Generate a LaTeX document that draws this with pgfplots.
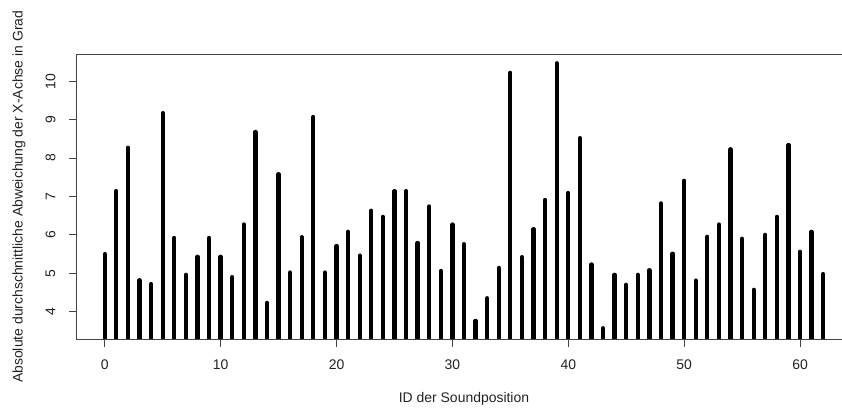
\documentclass[border=0pt]{standalone}
\usepackage{pgfplots}
\pgfplotsset{compat=1.18}
\usepackage{fontspec}
\setmainfont{Liberation Sans}
\definecolor{axisgray}{HTML}{444444}
\definecolor{textgray}{HTML}{222222}
\begin{document}
\begin{tikzpicture}
\useasboundingbox (0,0) rectangle (842bp,410bp);
\begin{axis}[
  name=ax,
  at={(76bp,70.5bp)}, anchor=south west,
  scale only axis, width=766bp, height=285.5bp,
  xmin=-2.48, xmax=63.62, ymin=3.276, ymax=10.71,
  xtick={0,10,...,60}, ytick={4,5,...,10},
  tick align=outside, xtick pos=bottom, ytick pos=left,
  major tick length=7bp,
  every tick/.style={axisgray, line width=0.8bp},
  axis line style={draw=none},
  /pgf/number format/assume math mode=true,
  tick label style={font=\fontsize{14}{16}\selectfont, text=textgray},
  yticklabel style={rotate=90, anchor=center},
  xticklabel style={anchor=center},
  yticklabel shift=18.5bp,
  xticklabel shift=18bp,
  label style={font=\fontsize{14}{16}\selectfont, text=textgray},
  xlabel={ID der Soundposition},
  ylabel={Absolute durchschnittliche Abweichung der X-Achse in Grad},
  xlabel style={at={(axis description cs:0.5065,-0.2084)}, anchor=center},
  ylabel style={at={(axis description cs:-0.0744,0.5)}, anchor=center},
]
\addplot[ycomb, black, line width=4.3bp, line cap=round] coordinates {
(0,5.50) (1,7.14) (2,8.27) (3,4.82) (4,4.72) (5,9.17) (6,5.92) (7,4.96)
(8,5.43) (9,5.92) (10,5.43) (11,4.90) (12,6.27) (13,8.68) (14,4.23) (15,7.58)
(16,5.02) (17,5.94) (18,9.07) (19,5.02) (20,5.71) (21,6.08) (22,5.46) (23,6.63)
(24,6.47) (25,7.14) (26,7.14) (27,5.79) (28,6.74) (29,5.06) (30,6.27) (31,5.76)
(32,3.76) (33,4.35) (34,5.14) (35,10.22) (36,5.42) (37,6.15) (38,6.91) (39,10.47)
(40,7.09) (41,8.52) (42,5.23) (43,3.57) (44,4.96) (45,4.70) (46,4.96) (47,5.08)
(48,6.82) (49,5.51) (50,7.41) (51,4.81) (52,5.95) (53,6.27) (54,8.23) (55,5.90)
(56,4.57) (57,6.00) (58,6.47) (59,8.34) (60,5.56) (61,6.08) (62,4.98)
};
\end{axis}
\draw[axisgray, line width=0.9bp] (ax.north east) -- (ax.north west) -- (ax.south west) -- (ax.south east);
\end{tikzpicture}
\end{document}
